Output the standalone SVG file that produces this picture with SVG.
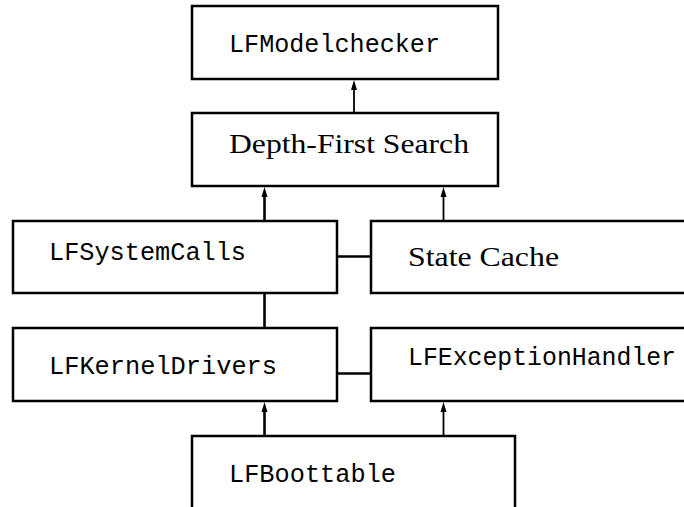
<svg xmlns="http://www.w3.org/2000/svg" width="684" height="507" viewBox="0 0 684 507">
  <style>
    .box { fill: #ffffff; stroke: #000000; stroke-width: 2.5; }
    .mono { font-family: "Liberation Mono", "DejaVu Sans Mono", monospace; font-size: 26px; fill: #000000; }
    .serif { font-family: "Liberation Serif", "DejaVu Serif", serif; font-size: 28px; fill: #000000; }
    .thick { stroke: #000000; stroke-width: 2.6; fill: none; }
    .thin { stroke: #000000; stroke-width: 1.8; fill: none; }
    .head { fill: #000000; }
  </style>

  <rect width="684" height="507" fill="#ffffff"/>

  <g id="connectors">
    <!-- Depth-First Search -> LFModelchecker -->
    <line class="thin" x1="354" y1="113" x2="354" y2="84"/>
    <path class="head" d="M351,90 L354,80 L357,90 Z"/>
    <!-- LFSystemCalls -> Depth-First Search -->
    <line class="thick" x1="264.5" y1="221" x2="264.5" y2="192"/>
    <path class="head" d="M261.5,197 L264.5,187 L267.5,197 Z"/>
    <!-- State Cache -> Depth-First Search -->
    <line class="thin" x1="443.5" y1="221" x2="443.5" y2="192"/>
    <path class="head" d="M440.5,197 L443.5,187 L446.5,197 Z"/>
    <!-- LFSystemCalls - State Cache -->
    <line class="thick" x1="337" y1="256.5" x2="371" y2="256.5"/>
    <!-- LFSystemCalls - LFKernelDrivers -->
    <line class="thick" x1="264.5" y1="293" x2="264.5" y2="328"/>
    <!-- LFKernelDrivers - LFExceptionHandler -->
    <line class="thick" x1="337" y1="373.5" x2="371" y2="373.5"/>
    <!-- LFBoottable -> LFKernelDrivers -->
    <line class="thick" x1="264.5" y1="436" x2="264.5" y2="407"/>
    <path class="head" d="M261.5,412 L264.5,402 L267.5,412 Z"/>
    <!-- LFBoottable -> LFExceptionHandler -->
    <line class="thin" x1="443.5" y1="436" x2="443.5" y2="407"/>
    <path class="head" d="M440.5,412 L443.5,402 L446.5,412 Z"/>
  </g>

  <g id="lfmodelchecker">
    <rect class="box" x="192" y="6" width="306" height="73"/>
    <text class="mono" x="229" y="52" textLength="211" lengthAdjust="spacingAndGlyphs">LFModelchecker</text>
  </g>

  <g id="depth-first-search">
    <rect class="box" x="192" y="113" width="306" height="73"/>
    <text class="serif" x="229" y="153" textLength="240" lengthAdjust="spacingAndGlyphs">Depth-First Search</text>
  </g>

  <g id="lfsystemcalls">
    <rect class="box" x="13" y="221" width="324" height="72"/>
    <text class="mono" x="49" y="260" textLength="197" lengthAdjust="spacingAndGlyphs">LFSystemCalls</text>
  </g>

  <g id="state-cache">
    <rect class="box" x="371" y="221" width="330" height="72"/>
    <text class="serif" x="408" y="266" textLength="151" lengthAdjust="spacingAndGlyphs">State Cache</text>
  </g>

  <g id="lfkerneldrivers">
    <rect class="box" x="13" y="328" width="324" height="73"/>
    <text class="mono" x="49" y="374" textLength="228" lengthAdjust="spacingAndGlyphs">LFKernelDrivers</text>
  </g>

  <g id="lfexceptionhandler">
    <rect class="box" x="371" y="328" width="330" height="73"/>
    <text class="mono" x="408" y="365" textLength="268" lengthAdjust="spacingAndGlyphs">LFExceptionHandler</text>
  </g>

  <g id="lfboottable">
    <rect class="box" x="192" y="436" width="323" height="90"/>
    <text class="mono" x="229" y="482" textLength="167" lengthAdjust="spacingAndGlyphs">LFBoottable</text>
  </g>
</svg>
